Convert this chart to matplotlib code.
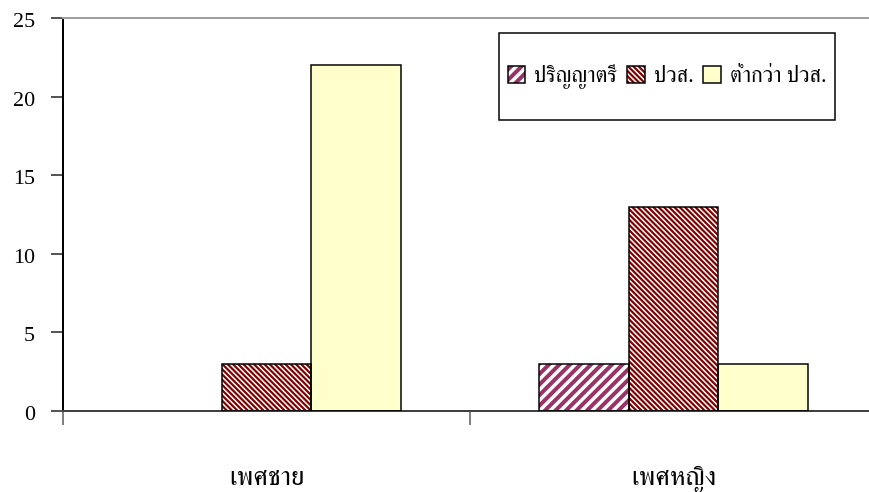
import matplotlib
matplotlib.use("Agg")
import matplotlib.pyplot as plt
from matplotlib.patches import Patch, Rectangle
from matplotlib.legend_handler import HandlerTuple
from matplotlib.transforms import ScaledTranslation
import numpy as np

categories = ["เพศชาย", "เพศหญิง"]
series_names = ["ปริญญาตรี", "ปวส.", "ต่ำกว่า ปวส."]
bachelor = [0, 3]
diploma = [3, 13]
below = [22, 3]
y_ticks = [0, 5, 10, 15, 20, 25]

DPI = 63
PT = 72 / DPI  # points per pixel
W, H = 869, 492

plt.rcParams['font.family'] = ['Liberation Serif', 'FreeSerif']

fig = plt.figure(figsize=(W / DPI, H / DPI), dpi=DPI)
ax = fig.add_axes([63 / W, 81 / H, 814 / W, 393 / H])

x = np.arange(len(categories))
bw = 0.221
offsets = [-bw, 0, bw]
series = [bachelor, diploma, below]
styles = [
    dict(hatch='//', hcolor='#993366', face='white', hlw=4 * PT),
    dict(hatch='\\\\\\\\', hcolor='#800000', face='white', hlw=2.2 * PT),
    dict(hatch=None, hcolor='black', face='#FFFFCC', hlw=1 * PT),
]
edge_lw = 1.5 * PT
handles = []
for vals, off, st in zip(series, offsets, styles):
    v = np.array(vals, dtype=float)
    v[v == 0] = np.nan  # zero values are not drawn
    with plt.rc_context({'hatch.linewidth': st['hlw'], 'hatch.color': st['hcolor']}):
        ax.bar(x + off, v, bw, color=st['face'], edgecolor=st['hcolor'],
               hatch=st['hatch'], linewidth=0, zorder=2)
        h1 = Patch(facecolor=st['face'], edgecolor=st['hcolor'], hatch=st['hatch'], linewidth=0)
    ax.bar(x + off, v, bw, fill=False, edgecolor='black', linewidth=edge_lw, zorder=3)
    h2 = Patch(fill=False, edgecolor='black', linewidth=edge_lw)
    handles.append((h1, h2))

ax.set_xlim(-0.5, 1.5)
ax.set_ylim(0, 25)
ax.set_yticks(y_ticks)
ax.set_xticks([-0.5, 0.5, 1.5])
ax.set_xticklabels([])
ax.set_xticks(x, minor=True)
ax.set_xticklabels(categories, minor=True)
ax.tick_params(axis='x', which='major', length=14 * PT, width=2 * PT, color='#808080', direction='out')
ax.xaxis.get_major_ticks()[0].tick1line.set_color('black')
ax.tick_params(axis='x', which='minor', length=0, pad=74 * PT, labelsize=27 * PT)
for lbl in ax.get_xticklabels(minor=True):
    lbl.set_verticalalignment('baseline')
ax.tick_params(axis='y', length=12 * PT, width=1.5 * PT, pad=16 * PT, labelsize=22 * PT,
               color='#202020', direction='out')
shift = ScaledTranslation(0, -2 / DPI, fig.dpi_scale_trans)
for lbl in ax.get_yticklabels():
    lbl.set_transform(lbl.get_transform() + shift)

for s in ['left', 'bottom', 'top']:
    ax.spines[s].set_linewidth(2 * PT)
ax.spines['left'].set_color('black')
ax.spines['bottom'].set_color('#404040')
ax.spines['top'].set_color('#a0a0a0')
ax.spines['right'].set_visible(False)

# legend
lx0, ly0, lx1, ly1 = 499, 33, 835, 120
frame = Rectangle((lx0 / W, 1 - ly1 / H), (lx1 - lx0) / W, (ly1 - ly0) / H,
                  transform=fig.transFigure, fill=True, facecolor='white',
                  edgecolor='black', linewidth=1.5 * PT, zorder=4)
fig.patches.append(frame)
leg = fig.legend(handles, series_names, handler_map={tuple: HandlerTuple(ndivide=1)},
                 loc='center', bbox_to_anchor=((lx0 + lx1) / 2 / W, 1 - (ly0 + ly1) / 2 / H),
                 bbox_transform=fig.transFigure, ncol=3, frameon=False,
                 prop={'size': 22 * PT}, handlelength=0.8, handleheight=0.8,
                 handletextpad=0.4, columnspacing=0.45, borderpad=0, borderaxespad=0)
leg.set_zorder(6)

# give legend swatches the same hatch line widths as the bars
hatch_lw = {st['hatch']: st['hlw'] for st in styles if st['hatch']}
for r in leg.findobj(Rectangle):
    h = r.get_hatch()
    if h in hatch_lw:
        if hasattr(r, 'set_hatch_linewidth'):
            r.set_hatch_linewidth(hatch_lw[h])
        else:
            r._hatch_linewidth = hatch_lw[h]

fig.savefig("out.png", dpi=DPI)
